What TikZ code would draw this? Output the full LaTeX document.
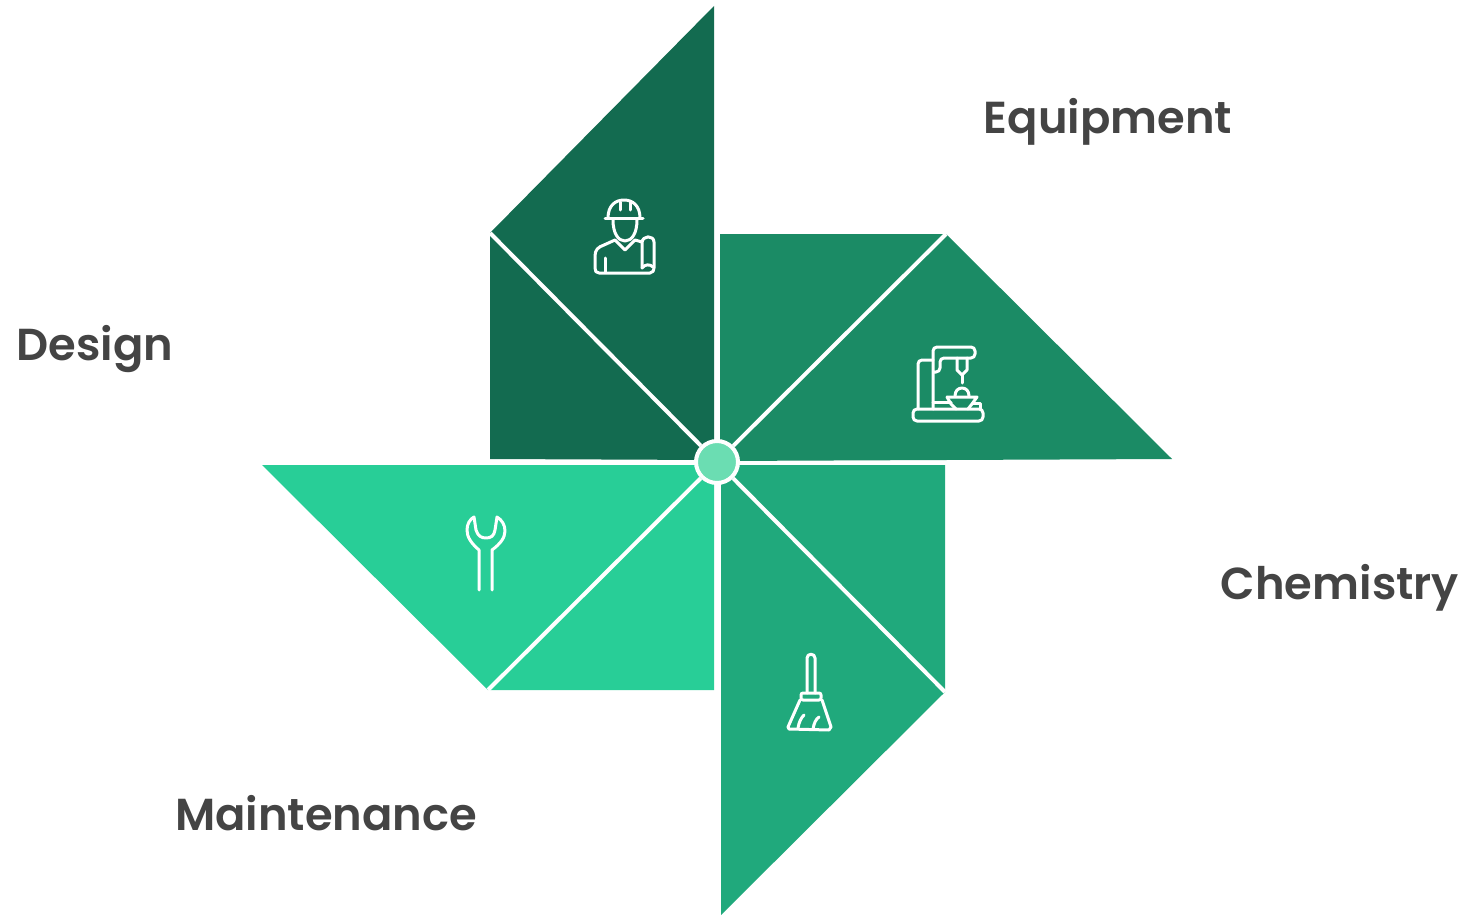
\documentclass[tikz,border=0pt]{standalone}
\usepackage{fontspec}
\setmainfont{Poppins}[BoldFont={Poppins SemiBold}]
\definecolor{designgreen}{HTML}{136B50}
\definecolor{equipgreen}{HTML}{1B8B65}
\definecolor{chemgreen}{HTML}{20A97C}
\definecolor{maintgreen}{HTML}{28CE97}
\definecolor{hubgreen}{HTML}{6BDDB2}
\definecolor{labelgray}{HTML}{444444}
\tikzset{
  label text/.style={font=\fontsize{22.4}{27}\selectfont\bfseries, text=labelgray, inner sep=0pt},
  blade line/.style={white, line width=2pt},
  icon line/.style={white, line width=1.5pt, line cap=round, line join=round}
}

\begin{document}
\begin{tikzpicture}[x=0.5pt, y=-0.5pt]
  \useasboundingbox (0,0) rectangle (1468,915);

  % The four blades of the pinwheel
  \fill[designgreen] (490,233) -- (714,6) -- (714,460) -- (490,459) -- cycle;
  \fill[equipgreen] (720,234) -- (946,234) -- (1172,459) -- (720,461) -- cycle;
  \fill[chemgreen] (721,465) -- (945,465) -- (945,692) -- (721,915) -- cycle;
  \fill[maintgreen] (262,465) -- (714,465) -- (714,690) -- (488,690) -- cycle;

  % Outer ends of the fold lines
  \coordinate (design fold) at (490,233);
  \coordinate (equip fold) at (946,234);
  \coordinate (chem fold) at (945,692);
  \coordinate (maint fold) at (488,690);

  % Hub in the middle
  \node[circle, fill=hubgreen, draw=white, line width=2pt, minimum size=21pt, inner sep=0pt] (hub) at (717,462) {};

  % Fold lines meet at the hub
  \draw[blade line] (design fold) -- (hub);
  \draw[blade line] (equip fold) -- (hub);
  \draw[blade line] (chem fold) -- (hub);
  \draw[blade line] (maint fold) -- (hub);

  % Labels
  \node[label text] (equipment) at (1108,122) {Equipment};
  \node[label text] (design) at (95,349) {Design};
  \node[label text] (chemistry) at (1340,588) {Chemistry};
  \node[label text] (maintenance) at (326,813) {Maintenance};

  % Worker icon
  \draw[icon line] (605,218) -- (643,218);
  \draw[icon line] (608,218) .. controls (608,206) and (615,200) .. (624,200) .. controls (633,200) and (640,206) .. (640,218);
  \draw[icon line] (620,202) -- (620,210) (630,202) -- (630,210);
  \draw[icon line] (613,220) .. controls (613,233) and (618,241) .. (625,241) .. controls (632,241) and (637,233) .. (637,220);
  \draw[icon line] (642,242) -- (635,240) -- (625,250) -- (615,240) -- (604,245) .. controls (598,247) and (595,250) .. (595,256) -- (595,268) .. controls (595,271) and (596,273) .. (599,273) -- (650,273) .. controls (653,273) and (654,270) .. (654,268) -- (654,242) .. controls (654,235) and (642,235) .. (642,243) -- (642,268);
  \draw[icon line] (605,258) -- (605,272);
  \draw[icon line] (642,268) .. controls (645,264) and (650,264) .. (653,267);

  % Machine icon
  \draw[icon line, rounded corners=2pt] (913,409) rectangle (983,421);
  \draw[icon line, rounded corners=2pt] (918,409) -- (918,360) -- (933,360);
  \draw[icon line, rounded corners=2pt] (933,409) -- (933,347) -- (975,347) -- (975,358) -- (940,358) -- (940,372) -- (933,372);
  \draw[icon line] (957,358) -- (957,370) -- (962,375) -- (967,370) -- (967,358);
  \draw[icon line] (962,375) -- (962,383);
  \draw[icon line] (955,396) .. controls (955,391) and (958,388) .. (962,388) .. controls (966,388) and (969,391) .. (969,396);
  \draw[icon line] (947,397) -- (977,397) -- (972,404) -- (968,409);
  \draw[icon line] (947,397) -- (951,404) -- (956,409);
  \draw[icon line] (933,402) -- (951,402);
  \draw[icon line] (973,403) -- (980,403) -- (980,409);

  % Wrench icon
  \draw[icon line] (479,590) -- (479,550) .. controls (471,543) and (467,537) .. (467,530) .. controls (467,524) and (470,519) .. (474,517) -- (476,530) .. controls (478,536) and (481,538) .. (486,538) .. controls (491,538) and (494,536) .. (495,530) -- (497,517) .. controls (502,520) and (505,525) .. (505,531) .. controls (505,538) and (500,544) .. (492,550) -- (492,590);

  % Broom icon
  \draw[icon line] (807,693) -- (807,658) .. controls (807,653) and (815,653) .. (815,658) -- (815,693);
  \draw[icon line, rounded corners=1pt] (801,693) rectangle (821,700);
  \draw[icon line] (800,700) -- (788,727) -- (789,729) -- (829,730) -- (831,727) -- (822,700);
  \draw[icon line] (798,728) .. controls (799,722) and (801,718) .. (804,715);
  \draw[icon line] (813,729) .. controls (814,723) and (816,719) .. (819,717);
\end{tikzpicture}
\end{document}
